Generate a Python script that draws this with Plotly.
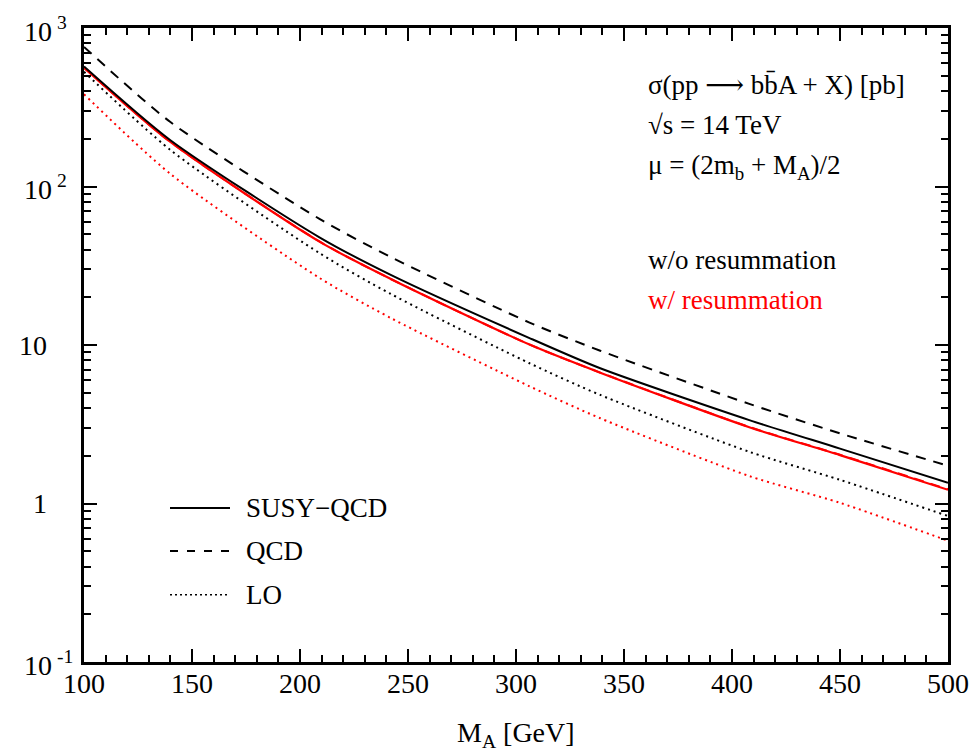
import math
import plotly.graph_objects as go

# ---- data ----
m_a = [100, 140, 209, 242, 306, 339, 408, 450, 500]

susy_qcd_nores = [572, 196, 47.8, 27.7, 11.1, 7.13, 3.36, 2.22, 1.35]
qcd_nores      = [760, 255, 62.5, 35.9, 13.9, 9.20, 4.25, 2.77, 1.73]
lo_nores       = [529, 170, 38.0, 21.0, 7.70, 4.84, 2.12, 1.41, 0.834]

susy_qcd_res   = [562, 191, 44.9, 26.1, 10.1, 6.69, 3.03, 2.02, 1.22]
qcd_res        = [563, 191, 45.0, 26.1, 10.1, 6.70, 3.04, 2.03, 1.23]
lo_res         = [382, 120, 26.5, 14.8, 5.51, 3.45, 1.49, 1.01, 0.582]

y_tickvals = [0.1, 1, 10, 100, 1000]
y_ticktext = ["10<sup> -1</sup>", "1", "10", "10<sup> 2</sup>", "10<sup> 3</sup>"]
x_tickvals = [100, 150, 200, 250, 300, 350, 400, 450, 500]

legend_labels = ["SUSY\u2212QCD", "QCD", "LO"]
legend_dashes = ["solid", "8px,9px", "2px,3px"]

FONT = "Times New Roman, Times, Liberation Serif, Tinos, DejaVu Serif, serif"
BLACK = "#000000"
RED = "#ff0000"

fig = go.Figure()

def add(y, color, dash, width):
    fig.add_trace(go.Scatter(x=m_a, y=y, mode="lines", showlegend=False,
                             line=dict(color=color, dash=dash, width=width,
                                       shape="spline", smoothing=0.7)))

add(qcd_nores, BLACK, "10px,8px", 2)
add(lo_nores, BLACK, "2px,4px", 2)
add(lo_res, RED, "2px,4px", 2)
add(qcd_res, RED, "10px,7px", 2)
add(susy_qcd_res, RED, "solid", 2.2)
add(susy_qcd_nores, BLACK, "solid", 2)

minor_y = [k * 10 ** e for e in range(-1, 3) for k in range(2, 10)]

fig.update_xaxes(
    range=[100, 500], tickvals=x_tickvals, ticks="inside", ticklen=13, tickwidth=1.5,
    tickcolor=BLACK, showline=True, linewidth=2.5, linecolor=BLACK, mirror="allticks",
    showgrid=False, zeroline=False, tickfont=dict(family=FONT, size=28, color=BLACK),
    ticklabelstandoff=-5, automargin=False,
    minor=dict(ticks="inside", ticklen=7, tickwidth=1.5, tickcolor=BLACK, dtick=10,
               tick0=100, showgrid=False),
)
fig.update_yaxes(
    type="log", range=[-1, 3], tickvals=y_tickvals, ticktext=y_ticktext,
    showticklabels=False,
    ticks="inside", ticklen=13, tickwidth=1.5, tickcolor=BLACK, showline=True,
    linewidth=2.5, linecolor=BLACK, mirror="allticks", showgrid=False, zeroline=False,
    automargin=False,
    minor=dict(ticks="inside", ticklen=7, tickwidth=1.5, tickcolor=BLACK,
               tickvals=minor_y, showgrid=False),
)

annotations = []
def note(text, x, y, color=BLACK, size=27, xanchor="left"):
    annotations.append(dict(text=text, x=x, y=y, xref="paper", yref="paper",
                            xanchor=xanchor, yanchor="middle", showarrow=False,
                            font=dict(family=FONT, size=size, color=color)))

# y tick labels (placed at the axis values)
for v, t in zip(y_tickvals, y_ticktext):
    has_sup = "<sup>" in t
    annotations.append(dict(
        text=t, xref="paper", yref="y", y=math.log10(v),
        x=(22 - 84) / 864 if has_sup else (49 - 84) / 864,
        xanchor="left" if has_sup else "right", yanchor="middle",
        yshift=-1 if has_sup else 0, showarrow=False,
        font=dict(family=FONT, size=28, color=BLACK)))

note("\u03c3(pp \u27f6 bb\u0304A + X) [pb]", 0.651, 0.910)
note("\u221as = 14 TeV", 0.651, 0.847)
note("\u03bc = (2m<sub>b</sub> + M<sub>A</sub>)/2", 0.651, 0.781)
note("w/o resummation", 0.651, 0.634)
note("w/ resummation", 0.651, 0.571, color=RED)
note("M<sub>A</sub> [GeV]", 0.5, -0.114, size=28, xanchor="center")

# legend (line samples + labels)
shapes = []
leg_y = [0.243, 0.175, 0.106]
for lab, dsh, ly in zip(legend_labels, legend_dashes, leg_y):
    shapes.append(dict(type="line", xref="paper", yref="paper",
                       x0=(170 - 84) / 864, x1=(230 - 84) / 864, y0=ly, y1=ly,
                       line=dict(color=BLACK, width=2 if dsh != "2px,3px" else 1.5, dash=dsh)))
    note(lab, (244 - 84) / 864, ly)

fig.update_layout(
    width=975, height=755,
    margin=dict(l=84, r=27, t=28, b=93),
    paper_bgcolor="white", plot_bgcolor="white",
    annotations=annotations, shapes=shapes,
    font=dict(family=FONT, color=BLACK),
)

fig.write_html("out.html")
